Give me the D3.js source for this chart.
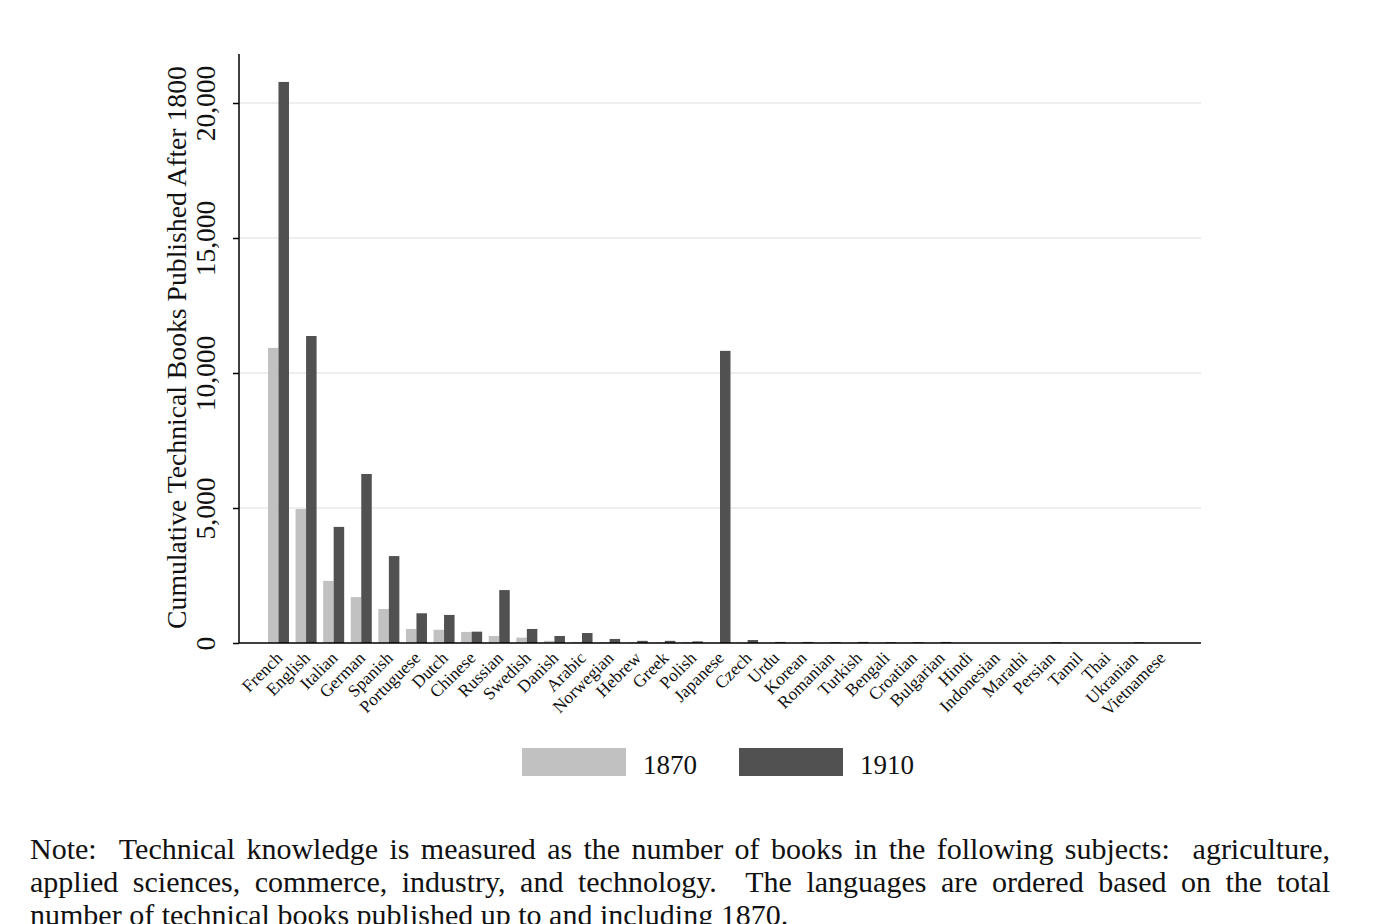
<!DOCTYPE html>
<html>
<head>
<meta charset="utf-8">
<script src="https://cdn.jsdelivr.net/npm/d3@7"></script>
<style>
  body { margin: 0; background: #fff; }
  #wrap { position: relative; width: 1394px; height: 924px; overflow: hidden; }
  #note { position: absolute; left: 30px; top: 832px; width: 1300px; white-space: pre-wrap;
          font-family: "Liberation Serif", serif; font-size: 30px; line-height: 33px; color: #111; }
  #note div.j { text-align: justify; text-align-last: justify; }
</style>
</head>
<body>
<div id="wrap">
  <svg id="chart" width="1394" height="924"></svg>
  <div id="note"></div>
</div>
<script>
// languages, ordered by number of books up to 1870
var languages = ["French", "English", "Italian", "German", "Spanish", "Portuguese", "Dutch", "Chinese",
  "Russian", "Swedish", "Danish", "Arabic", "Norwegian", "Hebrew", "Greek", "Polish", "Japanese",
  "Czech", "Urdu", "Korean", "Romanian", "Turkish", "Bengali", "Croatian", "Bulgarian", "Hindi",
  "Indonesian", "Marathi", "Persian", "Tamil", "Thai", "Ukranian", "Vietnamese"];

var books1870 = [10930, 4960, 2300, 1700, 1260, 520, 490, 410, 260, 200, 80, 40, 30, 20, 20, 40, 10,
  20, 5, 5, 5, 15, 15, 15, 0, 0, 0, 0, 0, 0, 0, 0, 0];

var books1910 = [20780, 11370, 4300, 6260, 3220, 1100, 1040, 420, 1960, 520, 260, 370, 150, 80, 80, 60, 10820,
  110, 40, 40, 30, 40, 30, 30, 40, 0, 0, 0, 30, 0, 0, 30, 0];

var years = ["1870", "1910"];
var yTicks = [0, 5000, 10000, 15000, 20000];

var noteLines = [
  "Note:  Technical knowledge is measured as the number of books in the following subjects:  agriculture,",
  "applied sciences, commerce, industry, and technology.  The languages are ordered based on the total",
  "number of technical books published up to and including 1870."
];

var light = "#c1c1c1", dark = "#515151";
var serif = "'Liberation Serif', 'Times New Roman', serif";

var plotLeft = 239, plotRight = 1201, plotTop = 54, plotBottom = 643;

var svg = d3.select("#chart");

var rows = languages.map(function (d, i) {
  return { lang: d, values: [books1870[i], books1910[i]] };
});

var x = d3.scaleBand()
  .domain(languages)
  .range([plotLeft, plotRight])
  .paddingInner(0.2386)
  .paddingOuter(1.05);

var x1 = d3.scaleBand()
  .domain(years)
  .range([0, x.bandwidth()]);

var y = d3.scaleLinear()
  .domain([0, 21815])
  .range([plotBottom, plotTop]);

var color = d3.scaleOrdinal().domain(years).range([light, dark]);

// gridlines
svg.append("g")
  .selectAll("line")
  .data(yTicks.slice(1))
  .join("line")
  .attr("x1", plotLeft).attr("x2", plotRight)
  .attr("y1", function (d) { return y(d); })
  .attr("y2", function (d) { return y(d); })
  .attr("stroke", "#e8e8e8")
  .attr("stroke-width", 1.5);

// bars
svg.append("g")
  .selectAll("g")
  .data(rows)
  .join("g")
  .attr("transform", function (d) { return "translate(" + x(d.lang) + ",0)"; })
  .selectAll("rect")
  .data(function (d) { return d.values.map(function (v, k) { return { year: years[k], v: v }; }); })
  .join("rect")
  .attr("x", function (d) { return x1(d.year); })
  .attr("width", x1.bandwidth())
  .attr("y", function (d) { return y(d.v); })
  .attr("height", function (d) { return plotBottom - y(d.v); })
  .attr("fill", function (d) { return color(d.year); });

// y axis
var yAxis = svg.append("g")
  .attr("transform", "translate(" + plotLeft + ",0)")
  .call(d3.axisLeft(y).tickValues(yTicks).tickSize(6).tickFormat(d3.format(",")));

yAxis.select(".domain").attr("stroke", "#000").attr("stroke-width", 1.5)
  .attr("d", "M0," + plotTop + "V" + plotBottom);
yAxis.selectAll(".tick line").attr("stroke", "#000").attr("stroke-width", 1.5);
yAxis.selectAll(".tick text")
  .attr("font-family", serif)
  .attr("font-size", 27.5)
  .attr("fill", "#111")
  .attr("text-anchor", "middle")
  .attr("x", null).attr("dy", null)
  .attr("transform", "translate(-24,0) rotate(-90)");

// x axis
var xAxis = svg.append("g")
  .attr("transform", "translate(0," + plotBottom + ")")
  .call(d3.axisBottom(x).tickSize(0));

xAxis.select(".domain").attr("stroke", "#000").attr("stroke-width", 1.5)
  .attr("d", "M" + plotLeft + ",0H" + plotRight);
xAxis.selectAll(".tick text")
  .attr("font-family", serif)
  .attr("font-size", 17.5)
  .attr("fill", "#111")
  .attr("text-anchor", "end")
  .attr("y", null).attr("dy", null)
  .attr("transform", "translate(5,16) rotate(-45)");

// axis title
svg.append("text")
  .attr("transform", "translate(186," + ((plotTop + plotBottom) / 2 - 1) + ") rotate(-90)")
  .attr("text-anchor", "middle")
  .attr("font-family", serif)
  .attr("font-size", 27.7)
  .attr("fill", "#111")
  .text("Cumulative Technical Books Published After 1800");

// legend
var legend = svg.append("g")
  .selectAll("g")
  .data(years)
  .join("g")
  .attr("transform", function (d, i) { return "translate(" + (522 + i * 217) + ",748)"; });

legend.append("rect")
  .attr("width", 104).attr("height", 28)
  .attr("fill", function (d) { return color(d); });

legend.append("text")
  .attr("x", 121).attr("y", 26)
  .attr("font-family", serif)
  .attr("font-size", 27)
  .attr("fill", "#111")
  .text(function (d) { return d; });

// note
d3.select("#note")
  .selectAll("div")
  .data(noteLines)
  .join("div")
  .attr("class", function (d, i) { return i < noteLines.length - 1 ? "j" : null; })
  .text(function (d) { return d; });
</script>
</body>
</html>
